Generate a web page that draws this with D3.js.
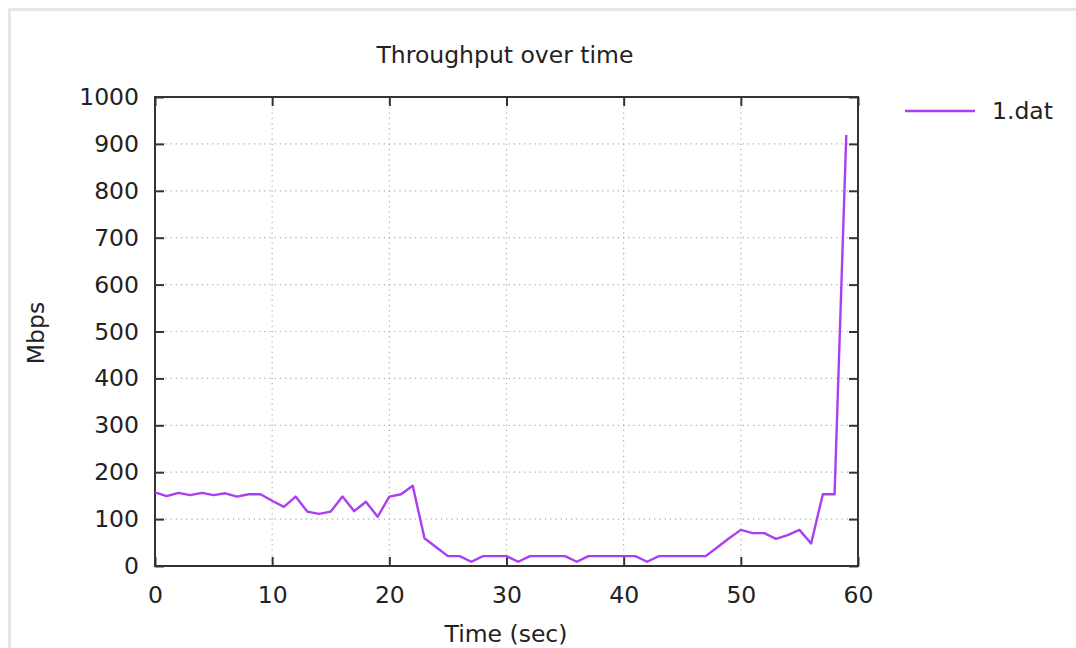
<!DOCTYPE html>
<html><head><meta charset="utf-8">
<script src="https://d3js.org/d3.v7.min.js"></script>
<style>body{margin:0;background:#fff}svg{display:block}text{font-family:"DejaVu Sans",sans-serif;fill:#222}</style>
</head><body><svg id="c" width="1076" height="648"></svg>
<script>
const times = d3.range(0, 60);
const mbps = [157,149,156,151,156,151,155,148,153,153,139,126,148,116,111,116,148,117,137,105,
148,153,171,59,40,21,21,9,21,21,21,9,21,21,21,21,9,21,21,21,
21,21,9,21,21,21,21,21,40,59,77,70,70,58,66,77,48,153,153,919];
const xTicks = [0,10,20,30,40,50,60];
const yTicks = [0,100,200,300,400,500,600,700,800,900,1000];
const title = "Throughput over time", xLabel = "Time (sec)", yLabel = "Mbps", seriesName = "1.dat";

const svg = d3.select("#c");
svg.append("rect").attr("x",9.5).attr("y",9.5).attr("width",1100).attr("height",700)
  .attr("fill","#fff").attr("stroke","#e6e6e6").attr("stroke-width",3);

const L=155,R=858,T=97,B=566;
const FS="23.5px";
const x = d3.scaleLinear().domain([0,60]).range([L,R]);
const y = d3.scaleLinear().domain([0,1000]).range([B,T]);
const grid = svg.append("g").attr("stroke","#aaa").attr("stroke-width",1.2).attr("stroke-dasharray","1.2,4");
grid.selectAll(".gx").data(xTicks.slice(1,-1)).join("line")
  .attr("x1",d=>x(d)).attr("x2",d=>x(d)).attr("y1",T).attr("y2",B);
grid.selectAll(".gy").data(yTicks.slice(1,-1)).join("line")
  .attr("y1",d=>y(d)).attr("y2",d=>y(d)).attr("x1",L).attr("x2",R);

const axStyle = g => { g.select(".domain").remove(); g.selectAll("line").attr("stroke","#333").attr("stroke-width",2);
  g.selectAll("text").style("font-size",FS).attr("fill","#222"); };
const fmt = d3.format("d");
svg.append("g").attr("transform",`translate(0,${B})`).call(d3.axisBottom(x).tickValues(xTicks).tickFormat(fmt).tickSizeInner(-9).tickPadding(20)).call(axStyle);
svg.append("g").attr("transform",`translate(0,${T})`).call(d3.axisTop(x).tickValues(xTicks).tickSizeInner(-9).tickFormat("")).call(axStyle);
svg.append("g").attr("transform",`translate(${L},0)`).call(d3.axisLeft(y).tickValues(yTicks).tickFormat(fmt).tickSizeInner(-9).tickPadding(16)).call(axStyle);
svg.append("g").attr("transform",`translate(${R},0)`).call(d3.axisRight(y).tickValues(yTicks).tickSizeInner(-9).tickFormat("")).call(axStyle);
svg.append("rect").attr("x",L).attr("y",T).attr("width",R-L).attr("height",B-T).attr("fill","none").attr("stroke","#333").attr("stroke-width",2);

svg.append("path").datum(times.map((t,i)=>[t,mbps[i]]))
  .attr("fill","none").attr("stroke","#a93ff0").attr("stroke-width",2.4).attr("stroke-linejoin","round")
  .attr("d", d3.line().x(d=>x(d[0])).y(d=>y(d[1])));

svg.append("text").attr("x",505).attr("y",63).attr("text-anchor","middle").style("font-size",FS).text(title);
svg.append("text").attr("x",506).attr("y",642).attr("text-anchor","middle").style("font-size",FS).text(xLabel);
svg.append("text").attr("transform","translate(44,333) rotate(-90)").attr("text-anchor","middle").style("font-size",FS).text(yLabel);
svg.append("line").attr("x1",905).attr("x2",975).attr("y1",111).attr("y2",111).attr("stroke","#a93ff0").attr("stroke-width",2.4);
svg.append("text").attr("x",992).attr("y",119).style("font-size",FS).text(seriesName);
</script></body></html>
